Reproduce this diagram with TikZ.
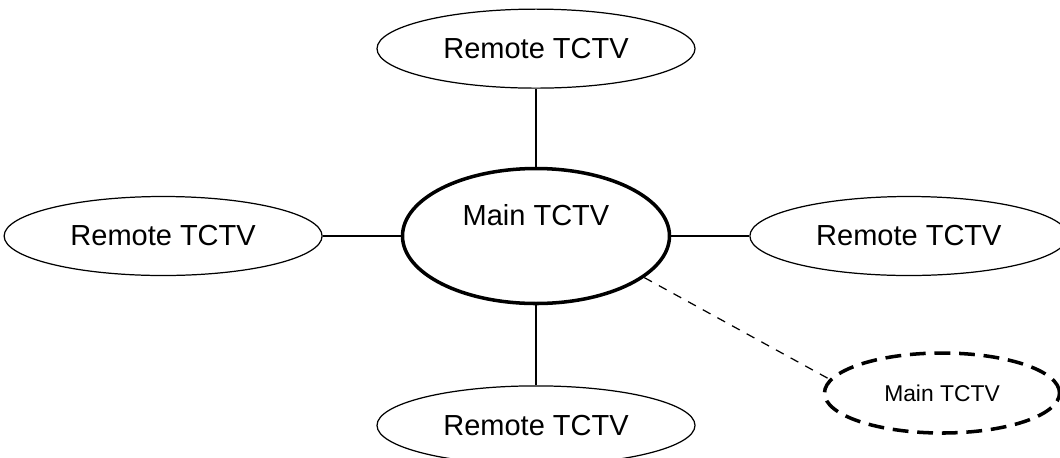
\documentclass[tikz,border=0pt]{standalone}
\usepackage{fontspec}
\setmainfont{Liberation Sans}
\usetikzlibrary{positioning,shapes.geometric}

\begin{document}
\begin{tikzpicture}[
    font=\fontsize{16.5}{19}\selectfont,
    node distance=1.56cm,
    remote/.style={
        ellipse,
        draw=black,
        line width=0.7pt,
        inner sep=0pt,
        minimum width=6.36cm,
        minimum height=1.58cm
    },
    hub/.style={
        ellipse,
        draw=black,
        line width=2pt,
        inner sep=0pt,
        minimum width=5.34cm,
        minimum height=2.7cm
    },
    standby/.style={
        ellipse,
        draw=black,
        line width=2pt,
        dash pattern=on 9pt off 5pt,
        inner sep=0pt,
        minimum width=4.7cm,
        minimum height=1.6cm,
        font=\fontsize{13}{15}\selectfont
    },
    link/.style={line width=0.7pt},
    backup/.style={line width=0.7pt, dash pattern=on 5pt off 4.5pt}
]

\useasboundingbox (-10.72,-4.42) rectangle (10.48,4.72);

% =========================================================
% NODO CENTRAL
% =========================================================

\node[hub, label={[yshift=0.42cm]center:Main TCTV}] (main) at (0,0) {};

% =========================================================
% NODOS REMOTOS
% =========================================================

\node[remote, above=of main] (rtop) {Remote TCTV};
\node[remote, left=of main] (rleft) {Remote TCTV};
\node[remote, right=of main] (rright) {Remote TCTV};
\node[remote, below=1.6cm of main] (rbottom) {Remote TCTV};

% nodo principal de reserva
\node[standby] (spare) at (8.12,-3.14) {Main TCTV};

% =========================================================
% CONEXIONES
% =========================================================

\draw[link] (main) -- (rtop);
\draw[link] (main) -- (rleft);
\draw[link] (main) -- (rright);
\draw[link] (main) -- (rbottom);

\draw[backup] (main.-21) -- (spare.173);

\end{tikzpicture}
\end{document}
